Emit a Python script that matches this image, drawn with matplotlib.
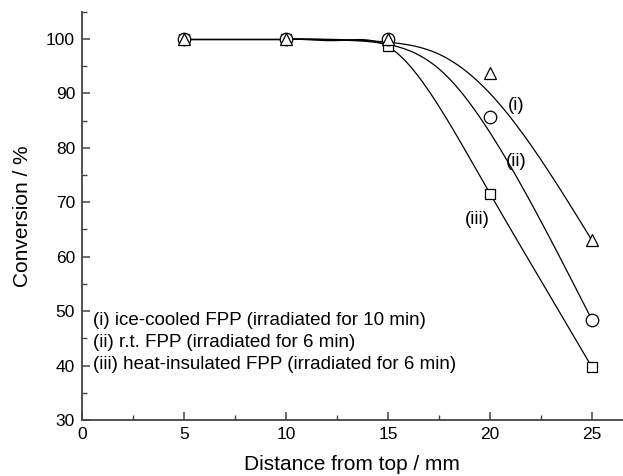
import numpy as np
import matplotlib
matplotlib.use('Agg')
import matplotlib.pyplot as plt
from matplotlib.ticker import MultipleLocator

plt.rcParams['font.family'] = ['Liberation Sans', 'DejaVu Sans']

# measured points (distance / mm, conversion / %)
distance = [5, 10, 15, 20, 25]
conv_ice = [100, 100, 100, 93.8, 63.0]
conv_rt = [100, 100, 100, 85.7, 48.4]
conv_heat = [100, 100, 98.7, 71.6, 39.7]

# guide curves (flat at 100 below 10 mm)
curve_x = [10, 12.5, 15, 17.5, 20, 22.5, 25]
curve_ice = [100, 99.9, 99.4, 97.2, 90.0, 77.8, 63.0]
curve_rt = [100, 99.8, 99.0, 94.5, 82.8, 66.5, 48.4]
curve_heat = [100, 99.7, 98.6, 87.6, 71.6, 55.6, 39.7]

legend_lines = ['(i) ice-cooled FPP (irradiated for 10 min)',
                '(ii) r.t. FPP (irradiated for 6 min)',
                '(iii) heat-insulated FPP (irradiated for 6 min)']


def spline(x, y, xs):
    # cubic spline, zero slope at the left end, natural at the right end
    x = np.asarray(x, float)
    y = np.asarray(y, float)
    n = len(x)
    h = np.diff(x)
    d = np.diff(y) / h
    A = np.zeros((n, n))
    b = np.zeros(n)
    A[0, 0] = 2 * h[0]
    A[0, 1] = h[0]
    b[0] = 6 * d[0]
    for i in range(1, n - 1):
        A[i, i - 1] = h[i - 1]
        A[i, i] = 2 * (h[i - 1] + h[i])
        A[i, i + 1] = h[i]
        b[i] = 6 * (d[i] - d[i - 1])
    A[-1, -1] = 1
    M = np.linalg.solve(A, b)
    i = np.clip(np.searchsorted(x, xs) - 1, 0, n - 2)
    hi = h[i]
    a = x[i + 1] - xs
    c = xs - x[i]
    return (M[i] * a**3 / (6 * hi) + M[i + 1] * c**3 / (6 * hi)
            + (y[i] / hi - M[i] * hi / 6) * a
            + (y[i + 1] / hi - M[i + 1] * hi / 6) * c)


fig = plt.figure(figsize=(6.23, 4.76), dpi=100)
ax = fig.add_axes([0.1316, 0.1176, 0.8677, 0.8578])

xs = np.linspace(curve_x[0], curve_x[-1], 400)
for cy in (curve_ice, curve_rt, curve_heat):
    ax.plot([distance[0], curve_x[0]], [cy[0], cy[0]], color='black', lw=0.9, zorder=2)
    ax.plot(xs, spline(curve_x, cy, xs), color='black', lw=0.9, zorder=2)

ax.plot(distance, conv_heat, ls='none', marker='s', ms=6.5, mfc='white',
        mec='black', mew=0.9, zorder=3)
ax.plot(distance, conv_rt, ls='none', marker='o', ms=9, mfc='white',
        mec='black', mew=0.9, zorder=4)
ax.plot(distance, conv_ice, ls='none', marker='^', ms=8.5, mfc='white',
        mec='black', mew=0.9, zorder=5)

ax.text(21.3, 87.7, '(i)', fontsize=13.5, ha='center', va='center')
ax.text(21.3, 77.4, '(ii)', fontsize=13.5, ha='center', va='center')
ax.text(19.4, 66.8, '(iii)', fontsize=13.5, ha='center', va='center')

for yy, txt in zip([48.2, 44.2, 40.2], legend_lines):
    ax.text(0.55, yy, txt, fontsize=13.5, ha='left', va='center')

ax.set_xlim(0, 26.5)
ax.set_ylim(30, 105)
ax.xaxis.set_major_locator(MultipleLocator(5))
ax.xaxis.set_minor_locator(MultipleLocator(2.5))
ax.yaxis.set_major_locator(MultipleLocator(10))
ax.yaxis.set_minor_locator(MultipleLocator(5))
ax.set_xticks([0, 5, 10, 15, 20, 25])
ax.set_yticks([30, 40, 50, 60, 70, 80, 90, 100])

for side in ['top', 'right']:
    ax.spines[side].set_visible(False)
for side in ['left', 'bottom']:
    ax.spines[side].set_color('#444444')
    ax.spines[side].set_linewidth(1.3)

ax.tick_params(which='both', direction='in', color='#444444', labelsize=12.5)
ax.tick_params(which='major', length=6, width=1.1, pad=5)
ax.tick_params(which='minor', length=3.5, width=1.0)

ax.set_xlabel('Distance from top / mm', fontsize=15)
ax.set_ylabel('Conversion / %', fontsize=15)
ax.xaxis.set_label_coords(0.5, -0.085)
ax.yaxis.set_label_coords(-0.092, 0.5)

fig.savefig('out.png', dpi=100)
